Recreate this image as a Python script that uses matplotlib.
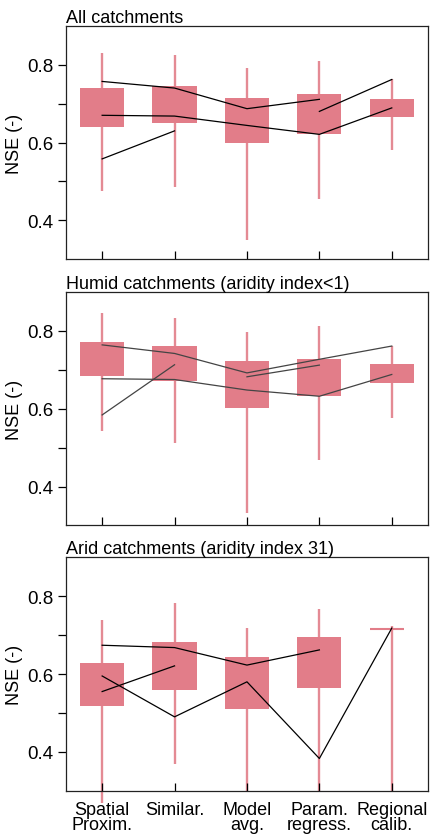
import numpy as np
import matplotlib.pyplot as plt

plt.rcParams['font.family'] = ['Liberation Sans', 'DejaVu Sans']

methods = ['Spatial\nProxim.', 'Similar.', 'Model\navg.', 'Param.\nregress.', 'Regional\ncalib.']
titles = ['All catchments', 'Humid catchments (aridity index<1)', 'Arid catchments (aridity index 31)']

# box statistics per panel: whisker min, q1, q3, whisker max
all_min = [0.475, 0.485, 0.350, 0.456, 0.582]
all_q1 = [0.639, 0.649, 0.600, 0.621, 0.665]
all_q3 = [0.741, 0.746, 0.715, 0.726, 0.713]
all_max = [0.830, 0.826, 0.791, 0.809, 0.762]

humid_min = [0.542, 0.512, 0.332, 0.468, 0.577]
humid_q1 = [0.683, 0.670, 0.602, 0.632, 0.666]
humid_q3 = [0.771, 0.761, 0.722, 0.729, 0.714]
humid_max = [0.847, 0.834, 0.797, 0.813, 0.761]

arid_min = [0.268, 0.368, 0.300, 0.300, 0.300]
arid_q1 = [0.519, 0.558, 0.509, 0.563, 0.716]
arid_q3 = [0.628, 0.683, 0.644, 0.696, 0.716]
arid_max = [0.738, 0.783, 0.718, 0.767, 0.724]

nan = np.nan
# black lines per panel (NaN = no point)
all_lines = [
    [0.757, 0.740, 0.687, 0.711, nan],
    [0.670, 0.668, 0.644, 0.621, 0.689],
    [0.558, 0.630, nan, nan, nan],
    [nan, nan, nan, 0.680, 0.762],
]
humid_lines = [
    [0.764, 0.742, 0.692, 0.727, 0.761],
    [0.677, 0.675, 0.648, 0.632, 0.688],
    [0.584, 0.713, nan, nan, nan],
    [nan, nan, 0.682, 0.712, nan],
]
arid_lines = [
    [0.674, 0.668, 0.623, 0.662, nan],
    [0.595, 0.490, 0.580, 0.383, 0.718],
    [0.555, 0.621, nan, nan, nan],
]

panels = [
    (all_min, all_q1, all_q3, all_max, all_lines, 'black'),
    (humid_min, humid_q1, humid_q3, humid_max, humid_lines, '#444444'),
    (arid_min, arid_q1, arid_q3, arid_max, arid_lines, 'black'),
]

pink = '#E27D89'
fig = plt.figure(figsize=(4.31, 8.37), dpi=100)
tops = [0.968, 0.650, 0.333]
h = 0.279
x = np.arange(1, 6)

for i, (mn, q1, q3, mx, lines, lc) in enumerate(panels):
    ax = fig.add_axes([0.153, tops[i] - h, 0.840, h])
    ax.vlines(x, mn, mx, color=pink, lw=1.7, alpha=0.9, zorder=1, clip_on=False)
    hgt = np.array(q3) - np.array(q1)
    flat = hgt == 0
    ax.bar(x[~flat], hgt[~flat], bottom=np.array(q1)[~flat], width=0.61,
           color=pink, zorder=2)
    if flat.any():
        ax.hlines(np.array(q1)[flat], x[flat] - 0.3, x[flat] + 0.17, color=pink, lw=1.5, zorder=2)
    for ln in lines:
        ax.plot(x, ln, color=lc, lw=0.9, zorder=3)
    ax.set_xlim(0.5, 5.5)
    ax.set_ylim(0.3, 0.9)
    ax.set_yticks([0.4, 0.5, 0.6, 0.7, 0.8])
    ax.set_yticklabels(['0.4', '', '0.6', '', '0.8'])
    ax.set_xticks(x)
    if i == 2:
        ax.set_xticklabels(methods, fontsize=13, linespacing=0.9)
    else:
        ax.set_xticklabels([])
    ax.tick_params(axis='y', direction='out', length=6, width=0.9, labelsize=13.5, pad=3)
    ax.tick_params(axis='x', direction='in', length=6, width=0.9, pad=7)
    ax.set_ylabel('NSE (-)', fontsize=13, labelpad=3)
    ax.set_title(titles[i], loc='left', fontsize=13, pad=3)
    for s in ax.spines.values():
        s.set_linewidth(0.9)
        s.set_color('#222222')

fig.savefig('out.png', dpi=100)
